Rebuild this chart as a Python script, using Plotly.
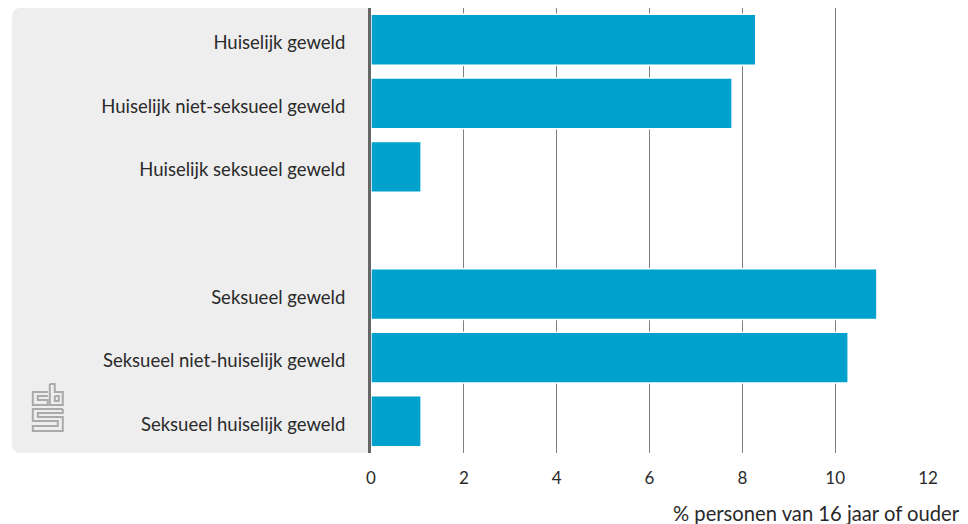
import plotly.graph_objects as go

categories = ["Huiselijk geweld", "Huiselijk niet-seksueel geweld", "Huiselijk seksueel geweld", " ",
              "Seksueel geweld", "Seksueel niet-huiselijk geweld", "Seksueel huiselijk geweld"]
values = [8.29, 7.78, 1.08, None, 10.9, 10.28, 1.08]
x_ticks = [0, 2, 4, 6, 8, 10, 12]
x_title = "% personen van 16 jaar of ouder"

W, H = 968, 524
L, R, T, B = 370.5, 928, 8, 453
FONT = "Lato"
SIZE = 18.5
TXT = "#2a2a2a"

def px(x):
    return (x - L) / (R - L)
def py(y):
    return 1 - (y - T) / (B - T)

def path(pts, close=False):
    s = "M " + " L ".join(f"{px(x):.5f},{py(y):.5f}" for x, y in pts)
    return s + (" Z" if close else "")

r = 9
top, bot = 8, 453
panel = (f"M {px(369)},{py(top)} L {px(11+r)},{py(top)} Q {px(11)},{py(top)} {px(11)},{py(top+r)} "
         f"L {px(11)},{py(bot-r)} Q {px(11)},{py(bot)} {px(11+r)},{py(bot)} L {px(369)},{py(bot)} Z")

shapes = [dict(type="path", xref="paper", yref="paper", path=panel,
               fillcolor="#eeeeee", line_width=0, layer="below")]
logo = [
    [(47, 392), (32, 392), (32, 405), (47, 405), (47, 400), (37, 400), (37, 396), (47, 396)],
    [(49, 384), (49, 405), (62, 405), (62, 392), (54, 392), (54, 384), (49, 384)],
    [(54, 396), (58, 396), (58, 401), (54, 401), (54, 396)],
    [(62, 409), (32, 409), (32, 421), (57, 421), (57, 426), (32, 426), (32, 431), (62, 431),
     (62, 417), (37, 417), (37, 413), (62, 413), (62, 409)],
]
for p in logo:
    shapes.append(dict(type="path", xref="paper", yref="paper", path=path(p),
                       line=dict(color="#aaaaaa", width=2), layer="above"))

fig = go.Figure(go.Bar(y=categories, x=values, orientation="h", width=0.8,
                       marker=dict(color="#00a1cd", line=dict(color="#ffffff", width=1.5))))
fig.update_layout(
    width=W, height=H, autosize=False, showlegend=False,
    paper_bgcolor="rgba(0,0,0,0)", plot_bgcolor="rgba(0,0,0,0)",
    margin=dict(l=L, r=W - R, t=T, b=H - B, pad=0),
    font=dict(family=FONT, size=SIZE, color=TXT),
    bargap=0.2, shapes=shapes,
    xaxis=dict(range=[0, 12], tickvals=x_ticks, showgrid=True, gridcolor="#808080", gridwidth=1,
               zeroline=False, showline=False, ticks="", ticklabelstandoff=13,
               tickfont=dict(family=FONT, size=17, color=TXT), fixedrange=True),
    yaxis=dict(categoryorder="array", categoryarray=categories[::-1], showgrid=False, zeroline=False,
               showline=True, linecolor="#666666", linewidth=3, ticks="", ticklabelstandoff=19,
               ticklabelshift=3,
               tickfont=dict(family=FONT, size=SIZE, color=TXT), fixedrange=True),
    annotations=[dict(text=x_title, xref="paper", yref="paper", x=px(962), y=py(512.5), xanchor="right",
                      yanchor="middle", showarrow=False, font=dict(family=FONT, size=20.2, color=TXT))],
)
fig.write_html("out.html", config={"displayModeBar": False},
               post_script="document.body.style.margin='0';document.body.style.overflow='hidden';")
